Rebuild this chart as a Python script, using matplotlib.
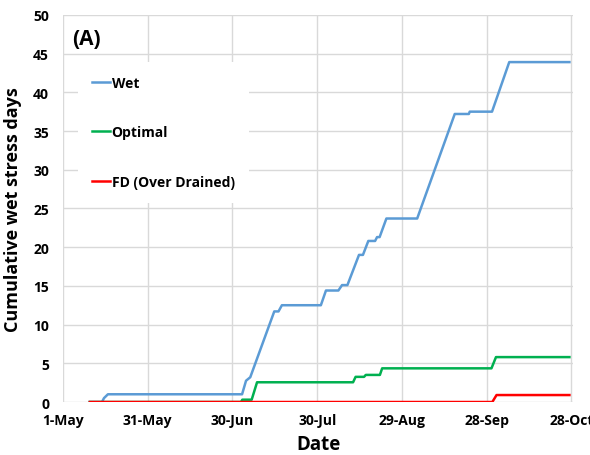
import matplotlib
matplotlib.use("Agg")
import matplotlib.pyplot as plt
import datetime as dt

plt.rcParams['font.family'] = ['Open Sans', 'DejaVu Sans']

# day offsets from 1-May and cumulative values
wet_days = [9.5, 13.8, 14.5, 15.9, 63.4, 64.8, 66.3, 74.8, 76.3, 77.5, 91.3, 93.1,
            97.5, 98.8, 100.7, 104.8, 106.2, 108.1, 110.5, 111.2, 112.1, 114.5,
            125.4, 138.7, 143.7, 144.0, 151.9, 158.0, 179.3]
wet_vals = [0, 0, 0.5, 1.0, 1.0, 2.75, 3.2, 11.7, 11.7, 12.5, 12.5, 14.4,
            14.4, 15.1, 15.1, 19.0, 19.0, 20.8, 20.8, 21.3, 21.3, 23.7,
            23.7, 37.2, 37.2, 37.5, 37.5, 43.9, 43.9]

opt_days = [9.5, 63.0, 63.5, 66.8, 68.7, 102.7, 103.6, 106.6, 107.2, 112.2, 113.0,
            151.7, 153.3, 179.3]
opt_vals = [0, 0, 0.3, 0.3, 2.55, 2.55, 3.25, 3.25, 3.5, 3.5, 4.35,
            4.35, 5.8, 5.8]

fd_days = [9.5, 152.0, 153.5, 179.3]
fd_vals = [0, 0, 0.9, 0.9]

tick_days = [0, 30, 60, 90, 120, 150, 180]
y_ticks = [0, 5, 10, 15, 20, 25, 30, 35, 40, 45, 50]

def to_dates(days):
    return [dt.datetime(2019, 5, 1) + dt.timedelta(days=d) for d in days]

fig = plt.figure(figsize=(5.9, 4.56), dpi=100)
ax = fig.add_axes([0.1068, 0.1162, 0.865, 0.849])

ax.plot(to_dates(wet_days), wet_vals, color='#5B9BD5', lw=1.8, label='Wet', zorder=3)
ax.plot(to_dates(opt_days), opt_vals, color='#00B050', lw=1.8, label='Optimal', zorder=3)
ax.plot(to_dates(fd_days), fd_vals, color='#FF0000', lw=1.8, label='FD (Over Drained)', zorder=3)

tick_dates = to_dates(tick_days)
ax.set_xticks(tick_dates)
ax.set_xticklabels([d.strftime('%-d-%b') for d in tick_dates], fontsize=10, fontweight='bold')
ax.set_xlim(tick_dates[0], tick_dates[-1] + dt.timedelta(days=0.7))
ax.set_ylim(0, 50)
ax.set_yticks(y_ticks)
ax.set_yticklabels([str(v) for v in y_ticks], fontsize=10, fontweight='bold')

ax.grid(True, color='#D9D9D9', lw=1.0, zorder=0)
for s in ax.spines.values():
    s.set_visible(False)
ax.tick_params(length=0, pad=8)
ax.tick_params(axis='y', pad=10)

ax.set_xlabel('Date', fontsize=13.5, fontweight='bold', labelpad=5)
ax.set_ylabel('Cumulative wet stress days', fontsize=13, fontweight='bold', labelpad=8)

ax.text(0.018, 0.965, '(A)', transform=ax.transAxes, fontsize=15, fontweight='bold', va='top')

leg = ax.legend(loc='upper left', bbox_to_anchor=(0.022, 0.89), frameon=True,
                facecolor='white', edgecolor='none', framealpha=1,
                prop={'weight': 'bold', 'size': 10}, labelspacing=2.57,
                handlelength=1.3, handletextpad=0.1, borderpad=1.0, borderaxespad=0.3,
                fancybox=False)
leg.set_zorder(5)

fig.savefig('out.png', dpi=100)
